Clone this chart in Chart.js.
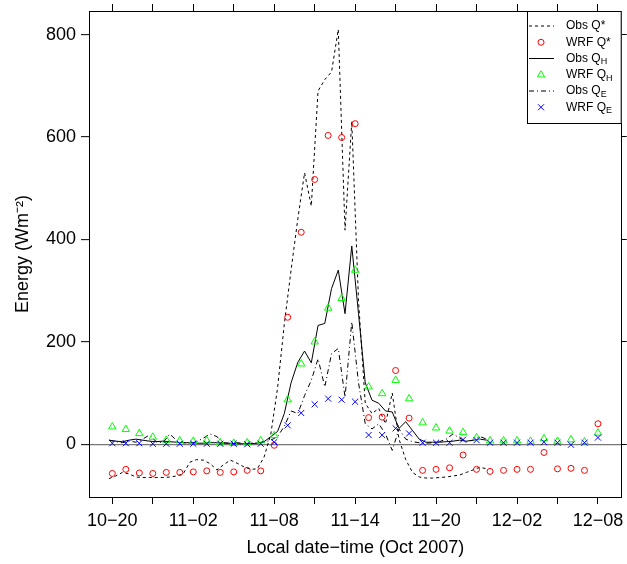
<!DOCTYPE html>
<html><head><meta charset="utf-8">
<script src="https://cdn.jsdelivr.net/npm/chart.js@4"></script>
<style>html,body{margin:0;padding:0;background:#fff}#wrap{width:627px;height:564px}</style>
</head><body><div id="wrap"><canvas id="c" width="627" height="564"></canvas></div>
<script>
// hours since 10-20 (local), Oct 2007
const tickHours = [0,3,6,9,12,15,18,21,24,27,30,33,36];
const tickLabels = ['10−20','','11−02','','11−08','','11−14','','11−20','','12−02','','12−08'];
const yTicks = [0,200,400,600,800];

const wrfHours = [0,1,2,3,4,5,6,7,8,9,10,11,12,13,14,15,16,17,18,19,20,21,22,23,24,25,26,27,28,29,30,31,32,33,34,35,36];
const wrfQstar = [-57,-49,-56,-57,-55,-55,-54,-52,-55,-54,-51,-52,-2,248,414,517,603,599,626,52,53,144,51,-51,-49,-46,-21,-49,-53,-51,-49,-49,-16,-48,-47,-51,40];
const wrfQH    = [34,29,21,14,8,7,6,7,3,2,3,7,17,87,157,200,266,285,340,112,99,125,89,42,32,26,23,13,7,7,7,6,11,6,9,5,22];
const wrfQE    = [2,2,2,1,1,1,1,1,1,1,0,1,4,37,61,78,89,87,83,18,18,31,21,3,3,3,9,8,3,3,3,3,4,3,-1,3,13];

const obsHours = [-0.25,0.25,0.75,1.25,1.75,2.25,2.75,3.25,3.75,4.25,4.75,5.25,5.75,6.25,6.75,7.25,7.75,8.25,8.75,9.25,9.75,10.25,10.75,11.25,11.75,12.25,12.75,13.25,13.75,14.25,14.75,15.25,15.75,16.25,16.75,17.25,17.75,18.25,18.75,19.25,19.75,20.25,20.75,21.25,21.75,22.25,22.75,23.25,23.75,24.25,24.75,25.25,25.75,26.25,26.75,27.25,27.75];
const obsQstar = [-67,-62,-55,-58,-64,-65,-65,-65,-65,-64,-62,-58,-35,-30,-31,-38,-50,-40,-31,-37,-44,-49,-48,-25,20,110,235,340,440,530,465,690,712,727,810,418,630,280,80,60,70,40,100,10,-30,-55,-64,-66,-66,-65,-64,-62,-60,-55,-50,-45,-48];
const obsQH    = [8,6,5,8,10,8,6,5,6,5,4,3,3,2,2,3,3,2,2,1,1,1,2,5,15,25,60,120,160,182,159,232,236,304,340,255,387,255,120,86,80,65,63,31,44,27,10,4,4,4,5,6,8,6,8,10,8];
const obsQE    = [8,5,3,6,4,10,18,5,3,20,8,3,2,5,12,20,15,3,2,3,2,2,3,4,8,15,35,65,60,95,125,167,112,177,187,92,239,120,40,30,40,20,-12,30,10,5,3,2,3,5,10,20,12,5,8,15,10];

const FONT = 'Liberation Sans, Arial, Helvetica, sans-serif';
const xy = (xs, ys) => xs.map((x, i) => ({x: x, y: ys[i]}));

const legendItems = [
  {kind:'line', dash:[3,3], main:'Obs Q*', sub:''},
  {kind:'circle', color:'#FF0000', main:'WRF Q*', sub:''},
  {kind:'line', dash:[], main:'Obs Q', sub:'H'},
  {kind:'triangle', color:'#00FF00', main:'WRF Q', sub:'H'},
  {kind:'line', dash:[5,3,1,3], main:'Obs Q', sub:'E'},
  {kind:'cross', color:'#0000FF', main:'WRF Q', sub:'E'}
];

const legendPlugin = {
  id: 'boxLegend',
  afterDraw(chart) {
    const ctx = chart.ctx, a = chart.chartArea;
    const L = 527, R = a.right, T = a.top, B = 123;
    ctx.save();
    ctx.fillStyle = '#fff';
    ctx.fillRect(L, T, R - L, B - T);
    ctx.strokeStyle = '#000'; ctx.lineWidth = 1;
    ctx.strokeRect(L + 0.5, T + 0.5, R - L - 1, B - T);
    legendItems.forEach((it, i) => {
      const y = 26 + i * 16.25;
      const cx = 541;
      ctx.strokeStyle = it.color || '#000';
      ctx.lineWidth = 1;
      ctx.setLineDash(it.dash || []);
      ctx.beginPath();
      if (it.kind === 'line') { ctx.moveTo(529, y); ctx.lineTo(554, y); }
      else if (it.kind === 'circle') { ctx.arc(cx, y, 3, 0, Math.PI * 2); }
      else if (it.kind === 'triangle') { ctx.moveTo(cx, y - 4); ctx.lineTo(cx + 3.6, y + 2.2); ctx.lineTo(cx - 3.6, y + 2.2); ctx.closePath(); }
      else if (it.kind === 'cross') { ctx.moveTo(cx - 3, y - 3); ctx.lineTo(cx + 3, y + 3); ctx.moveTo(cx + 3, y - 3); ctx.lineTo(cx - 3, y + 3); }
      ctx.stroke();
      ctx.setLineDash([]);
      ctx.fillStyle = '#000';
      ctx.textBaseline = 'middle'; ctx.textAlign = 'left';
      ctx.font = '12px ' + FONT;
      ctx.fillText(it.main, 566, y);
      if (it.sub) {
        const w = ctx.measureText(it.main).width;
        ctx.font = '9px ' + FONT;
        ctx.fillText(it.sub, 566 + w, y + 3.5);
      }
    });
    ctx.restore();
  }
};

const noPad = s => { s.paddingTop = 0; s.paddingBottom = 0; s.paddingLeft = 0; s.paddingRight = 0; };
const xCommon = {
  type: 'linear', min: -1.73, max: 37.76,
  afterBuildTicks: s => { s.ticks = tickHours.map(v => ({value: v})); }
};
const yCommon = {
  type: 'linear', min: -103, max: 846,
  afterBuildTicks: s => { s.ticks = yTicks.map(v => ({value: v})); }
};

new Chart(document.getElementById('c'), {
  type: 'scatter',
  data: {
    datasets: [
      {label:'Obs Q*', data: xy(obsHours, obsQstar), showLine:true, borderColor:'#000', borderWidth:1, borderDash:[3,3], pointRadius:0, fill:false, order:6},
      {label:'Obs QH', data: xy(obsHours, obsQH), showLine:true, borderColor:'#000', borderWidth:1, pointRadius:0, fill:false, order:5},
      {label:'Obs QE', data: xy(obsHours, obsQE), showLine:true, borderColor:'#000', borderWidth:1, borderDash:[5,3,1,3], pointRadius:0, fill:false, order:4},
      {label:'WRF Q*', data: xy(wrfHours, wrfQstar), showLine:false, pointStyle:'circle', pointRadius:3, borderColor:'#FF0000', backgroundColor:'rgba(0,0,0,0)', borderWidth:1, order:3},
      {label:'WRF QH', data: xy(wrfHours, wrfQH), showLine:false, pointStyle:'triangle', pointRadius:4.3, borderColor:'#00FF00', backgroundColor:'rgba(0,0,0,0)', borderWidth:1, order:2},
      {label:'WRF QE', data: xy(wrfHours, wrfQE), showLine:false, pointStyle:'crossRot', pointRadius:4.3, borderColor:'#0000FF', backgroundColor:'rgba(0,0,0,0)', borderWidth:1, order:1}
    ]
  },
  options: {
    responsive: false, devicePixelRatio: 1, animation: false,
    layout: {padding: 0},
    plugins: {legend: {display: false}, tooltip: {enabled: false}},
    scales: {
      x: Object.assign({}, xCommon, {
        position: 'bottom',
        afterFit: s => { s.height = 67; noPad(s); },
        ticks: {autoSkip:false, maxRotation:0, minRotation:0, padding:6, color:'#000', font:{family:FONT, size:18},
                callback: (v, i) => tickLabels[i]},
        grid: {drawOnChartArea:false, drawTicks:true, tickLength:7, tickColor:'#000', color:'#000'},
        border: {display:true, color:'#000', width:1},
        title: {display:true, text:'Local date−time (Oct 2007)', color:'#000', font:{family:FONT, size:18}, padding:{top:0, bottom:5}}
      }),
      x2: Object.assign({}, xCommon, {
        position: 'top',
        afterFit: s => { s.height = 11; noPad(s); },
        ticks: {display:false},
        grid: {drawOnChartArea:false, drawTicks:true, tickLength:7, tickColor:'#000', color:'#000'},
        border: {display:true, color:'#000', width:1}
      }),
      y: Object.assign({}, yCommon, {
        position: 'left',
        afterFit: s => { s.width = 89; noPad(s); },
        ticks: {padding:5, color:'#000', font:{family:FONT, size:18}, callback: v => String(v)},
        grid: {drawOnChartArea:true, drawTicks:true, tickLength:8, tickColor:'#000',
               color: c => (c.tick && c.tick.value === 0) ? '#777' : 'rgba(0,0,0,0)', lineWidth:1.3, tickWidth:1},
        border: {display:true, color:'#000', width:1},
        title: {display:true, text:'Energy (Wm⁻²)', color:'#000', font:{family:FONT, size:18}, padding:{top:12, bottom:0}}
      }),
      y2: Object.assign({}, yCommon, {
        position: 'right',
        afterFit: s => { s.width = 5; noPad(s); },
        ticks: {display:false},
        grid: {drawOnChartArea:false, drawTicks:true, tickLength:5, tickColor:'#000', color:'#000'},
        border: {display:true, color:'#000', width:1}
      })
    }
  },
  plugins: [legendPlugin]
});
</script>
</body></html>
